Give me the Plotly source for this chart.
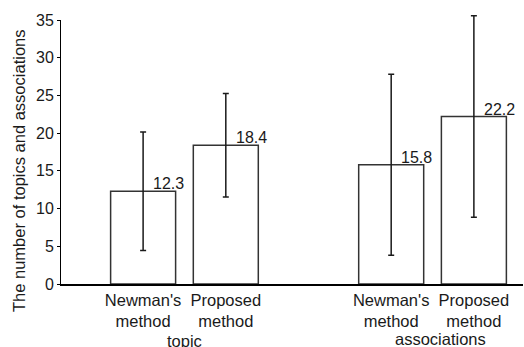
import plotly.graph_objects as go

groups = ["topic", "associations"]
methods = ["Newman's<br>method", "Proposed<br>method"]
means = [[12.3, 18.4], [15.8, 22.2]]
errors = [[7.85, 6.85], [12.0, 13.35]]
value_labels = [["12.3", "18.4"], ["15.8", "22.2"]]
y_title = "The number of topics and associations"

FONT = "Liberation Sans, Arial, sans-serif"
INK = "#1a1a1a"
Y_MAX = 35
W, H = 524, 347
M_L, M_R, M_T, M_B = 61, 1, 12, 63
AXIS_TOP_PX = 20  # where the 35 tick sits from the top
D = (H - M_B - AXIS_TOP_PX) / (H - M_B - M_T)  # main y-axis domain top

xs, ys, es, ticktext, labels = [], [], [], [], []
for g, grp in enumerate(groups):
    for m, meth in enumerate(methods):
        xs.append(g * 3 + m)
        ys.append(means[g][m])
        es.append(errors[g][m])
        ticktext.append(meth)
        labels.append(value_labels[g][m])

fig = go.Figure()
fig.add_trace(go.Bar(
    x=xs, y=ys, width=0.786,
    marker=dict(color="white", line=dict(color="#333333", width=1.5)),
    showlegend=False, hoverinfo="skip",
))
fig.add_trace(go.Scatter(
    x=xs, y=ys, yaxis="y2", mode="markers", marker=dict(size=1, color="rgba(0,0,0,0)"),
    error_y=dict(type="data", array=es, visible=True, color=INK, thickness=1.5, width=3),
    showlegend=False, hoverinfo="skip",
))

annotations = []
for x, y, t in zip(xs, ys, labels):
    annotations.append(dict(x=x, y=y, text=t, showarrow=False, xanchor="left", yanchor="bottom",
                            xshift=8, yshift=-3, font=dict(family=FONT, size=16, color=INK)))
group_shift = [(0, -46), (8, -44)]
for g, grp in enumerate(groups):
    annotations.append(dict(x=g * 3 + 0.5, y=0, xref="x", yref="paper", text=grp, showarrow=False,
                            xanchor="center", yanchor="top", xshift=group_shift[g][0],
                            yshift=group_shift[g][1],
                            font=dict(family=FONT, size=16.5, color=INK)))
# y-axis title (placed as rotated text, centred a little below the axis midpoint as in the original)
annotations.append(dict(x=(19 - M_L) / (W - M_L - M_R), y=(H - M_B - 171) / (H - M_B - M_T),
                        xref="paper", yref="paper", text=y_title, textangle=-90, showarrow=False,
                        xanchor="center", yanchor="middle",
                        font=dict(family=FONT, size=16.5, color=INK)))

fig.update_layout(
    width=W, height=H,
    margin=dict(l=M_L, r=M_R, t=M_T, b=M_B),
    paper_bgcolor="white", plot_bgcolor="rgba(0,0,0,0)",
    font=dict(family=FONT, size=16, color=INK),
    annotations=annotations,
    xaxis=dict(range=[-0.993, 4.594], tickvals=xs, ticktext=ticktext, showgrid=False, zeroline=False,
               showline=True, linecolor="black", linewidth=1.5, ticks="", tickfont=dict(size=16.5),
               automargin=False),
    yaxis=dict(domain=[0, D], range=[0, Y_MAX], dtick=5, showgrid=False, zeroline=False, showline=True,
               linecolor="black", linewidth=1, ticks="outside", ticklen=3, tickcolor="black",
               tickfont=dict(size=16), automargin=False),
    yaxis2=dict(domain=[0, 1], range=[0, Y_MAX / D], anchor="x", visible=False,
                showgrid=False, zeroline=False),
)

fig.write_html("out.html", config={"displayModeBar": False},
               post_script="document.body.style.margin='0';document.body.style.overflow='hidden';")
